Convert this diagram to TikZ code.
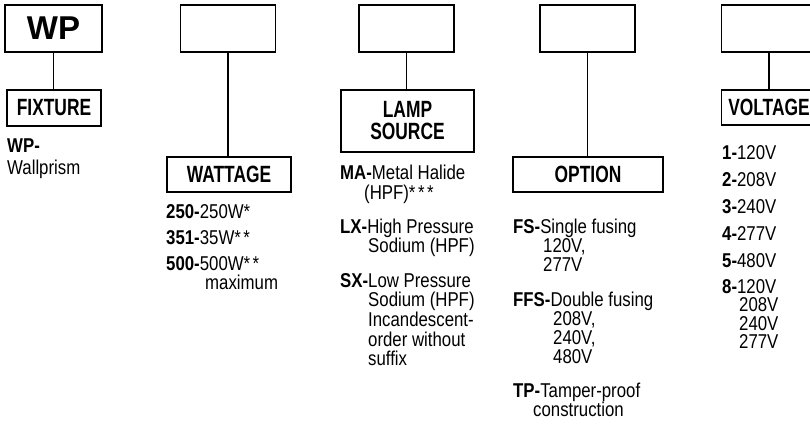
\documentclass[tikz,border=0pt]{standalone}
\usepackage{fontspec}
\setmainfont{Liberation Sans}
\newfontfamily\bodyf[FakeStretch=0.84]{Liberation Sans}
\newfontfamily\hdrf[FakeStretch=0.74]{Liberation Sans}
\begin{document}
\begin{tikzpicture}[x=1pt,y=-1pt,
  box/.style={draw,line width=1.2pt,inner sep=0pt},
  topbox/.style={box,minimum width=95pt,minimum height=47pt},
  lblbox/.style={box,minimum height=35pt,font=\hdrf\bfseries\fontsize{23.5}{22}\selectfont,align=center},
  conn/.style={line width=1.2pt},
  item/.style={anchor=base west,inner sep=0pt,text height=13.5pt,text depth=3pt,
    font=\bodyf\fontsize{20}{19}\selectfont}]
\clip (0,0) rectangle (810,425);
% top boxes
\node[topbox,minimum width=97pt,font=\bfseries\fontsize{33}{33}\selectfont] (t1) at (53.5,28.5) {WP};
\node[topbox] (t2) at (228,28.5) {};
\node[topbox] (t3) at (406.5,28.5) {};
\node[topbox] (t4) at (587.5,28.5) {};
\node[topbox] (t5) at (769,28.5) {};
% label boxes
\node[lblbox,minimum width=94pt,minimum height=36pt] (l1) at (54,108) {FIXTURE};
\node[lblbox,minimum width=124pt] (l2) at (229,174.5) {WATTAGE};
\node[lblbox,minimum width=133pt,minimum height=62pt] (l3) at (407.5,121) {LAMP\\SOURCE};
\node[lblbox,minimum width=150pt] (l4) at (588,174.5) {OPTION};
\node[lblbox,minimum width=95pt] (l5) at (769,107.5) {VOLTAGE};
% connectors
\foreach \i in {1,...,5}{\draw[conn] (t\i.south) -- (t\i.south |- l\i.north);}
% column 1
\node[item] (a1) at (7,152) {\textbf{WP-}};
\node[item] (a2) at (7,174) {Wallprism};
% column 2
\node[item] (b1) at (166,218) {\textbf{250-}250W*};
\node[item] (b2) at (166,244) {\textbf{351-}35W*\kern2.5pt*};
\node[item] (b3) at (166,270) {\textbf{500-}500W*\kern2.5pt*};
\node[item] (b4) at (205,289) {maximum};
% column 3
\node[item] (c1) at (340,179) {\textbf{MA-}Metal Halide};
\node[item] (c2) at (364,199) {(HPF)*\kern2.5pt*\kern2.5pt*};
\node[item] (c3) at (340,233) {\textbf{LX-}High Pressure};
\node[item] (c4) at (368,252) {Sodium (HPF)};
\node[item] (c5) at (340,287) {\textbf{SX-}Low Pressure};
\node[item] (c6) at (368,306) {Sodium (HPF)};
\node[item] (c7) at (368,326) {Incandescent-};
\node[item] (c8) at (368,346) {order without};
\node[item] (c9) at (368,365) {suffix};
% column 4
\node[item] (d1) at (513,233) {\textbf{FS-}Single fusing};
\node[item] (d2) at (543,252) {120V,};
\node[item] (d3) at (543,271) {277V};
\node[item] (d4) at (513,306) {\textbf{FFS-}Double fusing};
\node[item] (d5) at (553,325) {208V,};
\node[item] (d6) at (553,344) {240V,};
\node[item] (d7) at (553,363) {480V};
\node[item] (d8) at (513,397) {\textbf{TP-}Tamper-proof};
\node[item] (d9) at (533,416) {construction};
% column 5
\node[item] (e1) at (722,159) {\textbf{1-}120V};
\node[item] (e2) at (722,186) {\textbf{2-}208V};
\node[item] (e3) at (722,213) {\textbf{3-}240V};
\node[item] (e4) at (722,240) {\textbf{4-}277V};
\node[item] (e5) at (722,267) {\textbf{5-}480V};
\node[item] (e6) at (722,293) {\textbf{8-}120V};
\node[item] (e7) at (739,311.5) {208V};
\node[item] (e8) at (739,330) {240V};
\node[item] (e9) at (739,348.5) {277V};
\end{tikzpicture}
\end{document}
